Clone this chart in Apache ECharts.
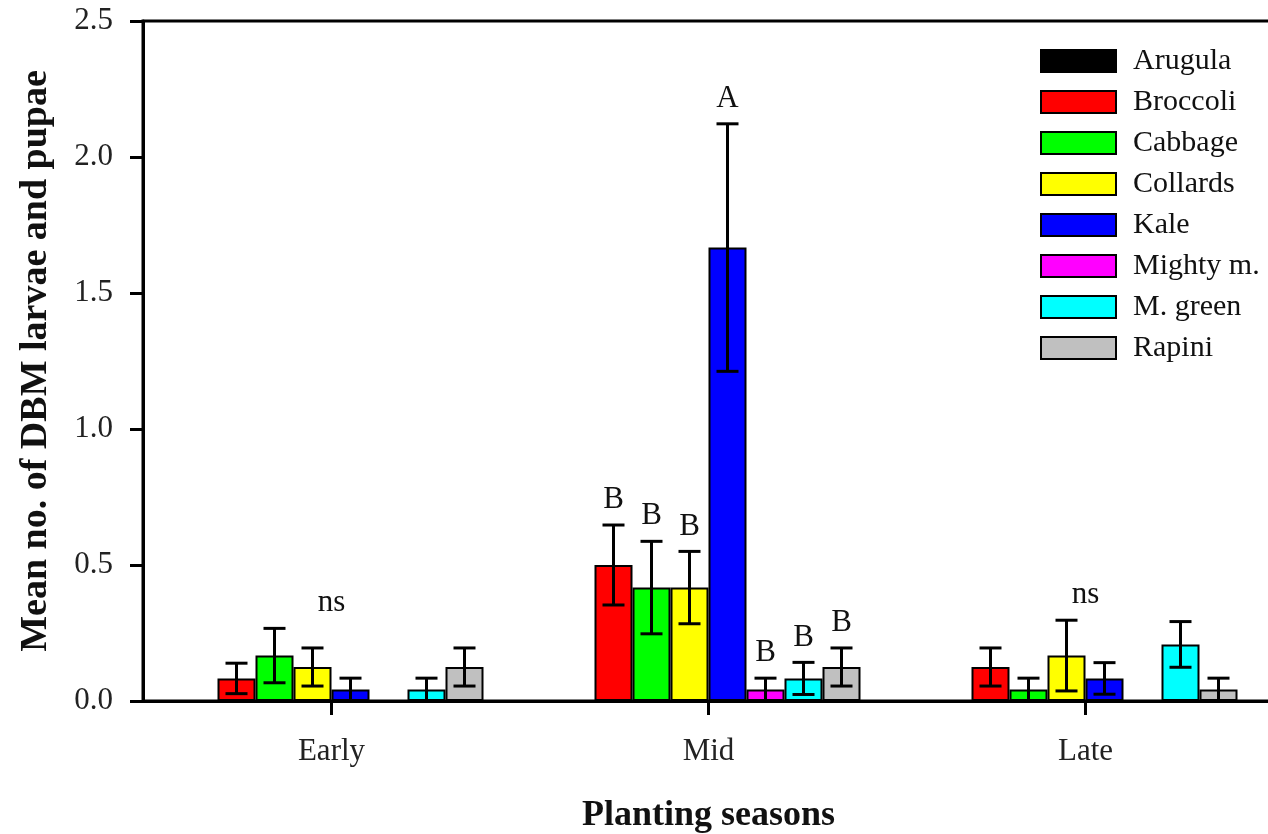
<!DOCTYPE html>
<html>
<head>
<meta charset="utf-8">
<script src="https://cdn.jsdelivr.net/npm/echarts@6/dist/echarts.min.js"></script>
<style>
html,body{margin:0;padding:0;background:#fff;}
#chart{width:1268px;height:834px;}
</style>
</head>
<body>
<div id="chart"></div>
<script>
// ---- data ----
const categories = ['Early', 'Mid', 'Late'];
const seriesNames = ['Arugula', 'Broccoli', 'Cabbage', 'Collards', 'Kale', 'Mighty m.', 'M. green', 'Rapini'];
const seriesColors = ['#000000', '#ff0000', '#00ff00', '#ffff00', '#0000ff', '#ff00ff', '#00ffff', '#c0c0c0'];

const arugula  = [0, 0, 0];
const broccoli = [0.083, 0.5, 0.125];
const cabbage  = [0.167, 0.417, 0.042];
const collards = [0.125, 0.417, 0.167];
const kale     = [0.042, 1.667, 0.083];
const mighty   = [0, 0.042, 0];
const mgreen   = [0.042, 0.083, 0.208];
const rapini   = [0.125, 0.125, 0.042];

const arugulaErr  = [0, 0, 0];
const broccoliErr = [0.056, 0.147, 0.07];
const cabbageErr  = [0.1, 0.17, 0.042];
const collardsErr = [0.07, 0.133, 0.13];
const kaleErr     = [0.042, 0.455, 0.058];
const mightyErr   = [0, 0.042, 0];
const mgreenErr   = [0.042, 0.059, 0.084];
const rapiniErr   = [0.07, 0.07, 0.042];

// significance letters (per category, per series)
const earlyLetters = ['', '', '', '', '', '', '', ''];
const midLetters   = ['', 'B', 'B', 'B', 'A', 'B', 'B', 'B'];
const lateLetters  = ['', '', '', '', '', '', '', ''];

// "ns" notes: category index, y value
const nsCategories = [0, 2];
const nsValues = [0.36, 0.39];

const yTicks = [0, 0.5, 1.0, 1.5, 2.0, 2.5];

// ---- build ----
const values = [arugula, broccoli, cabbage, collards, kale, mighty, mgreen, rapini];
const errors = [arugulaErr, broccoliErr, cabbageErr, collardsErr, kaleErr, mightyErr, mgreenErr, rapiniErr];
const letters = [earlyLetters, midLetters, lateLetters];

const BAR_W = 38;
const FONT = '"Liberation Serif", "Times New Roman", serif';

const barSeries = seriesNames.map((name, i) => ({
  name: name,
  type: 'bar',
  data: values[i],
  barWidth: BAR_W,
  barGap: '0%',
  itemStyle: { color: seriesColors[i], borderColor: '#000', borderWidth: 2 },
  z: 2
}));

const errData = [];
for (let s = 0; s < seriesNames.length; s++) {
  for (let c = 0; c < categories.length; c++) {
    errData.push([c, s, values[s][c], errors[s][c], letters[c][s]]);
  }
}

const errSeries = {
  type: 'custom',
  name: 'err',
  z: 5,
  encode: { x: 0, y: 2 },
  data: errData,
  renderItem: function (params, api) {
    const c = api.value(0), s = api.value(1), v = api.value(2), e = api.value(3);
    const letter = errData[params.dataIndex][4];
    const n = seriesNames.length;
    const off = (s - (n - 1) / 2) * BAR_W;
    const top = api.coord([c, v + e]);
    const bot = api.coord([c, v - e]);
    const x = top[0] + off;
    const children = [];
    const ls = { stroke: '#000', lineWidth: 3 };
    if (e > 0) {
      children.push({ type: 'line', shape: { x1: x, y1: top[1], x2: x, y2: bot[1] }, style: ls });
      children.push({ type: 'line', shape: { x1: x - 11, y1: top[1], x2: x + 11, y2: top[1] }, style: ls });
      children.push({ type: 'line', shape: { x1: x - 11, y1: bot[1], x2: x + 11, y2: bot[1] }, style: ls });
    }
    if (letter) {
      children.push({ type: 'text', style: { text: letter, x: x, y: top[1] - 25, align: 'center', verticalAlign: 'middle', font: '31px ' + FONT, fill: '#111' } });
    }
    return { type: 'group', children: children };
  }
};

const nsSeries = {
  type: 'custom',
  name: 'ns',
  z: 5,
  encode: { x: 0, y: 1 },
  data: nsCategories.map((c, i) => [c, nsValues[i]]),
  renderItem: function (params, api) {
    const p = api.coord([api.value(0), api.value(1)]);
    return { type: 'text', style: { text: 'ns', x: p[0], y: p[1], align: 'center', verticalAlign: 'middle', font: '31px ' + FONT, fill: '#111' } };
  }
};

const chart = echarts.init(document.getElementById('chart'), null, { renderer: 'canvas' });
chart.setOption({
  animation: false,
  backgroundColor: '#fff',
  grid: { left: 143, top: 21, width: 1131, height: 680, outerBoundsMode: 'none', containLabel: false, show: true, borderColor: '#000', borderWidth: 3, backgroundColor: 'transparent' },
  legend: {
    data: seriesNames,
    orient: 'vertical',
    left: 1035,
    top: 41,
    icon: 'rect',
    itemWidth: 75,
    itemHeight: 22,
    itemGap: 11,
    textStyle: { fontFamily: FONT, fontSize: 30, color: '#111', padding: [0, 0, 0, 12] }
  },
  xAxis: {
    type: 'category',
    data: categories,
    axisLine: { lineStyle: { color: '#000', width: 3 } },
    axisTick: { show: true, alignWithLabel: true, length: 14, lineStyle: { color: '#000', width: 3 } },
    axisLabel: { fontFamily: FONT, fontSize: 31, color: '#222', margin: 35 },
    splitLine: { show: false },
    name: 'Planting seasons',
    nameLocation: 'middle',
    nameGap: 97,
    nameTextStyle: { fontFamily: FONT, fontSize: 36, fontWeight: 'bold', color: '#111' }
  },
  yAxis: {
    type: 'value',
    min: yTicks[0],
    max: yTicks[yTicks.length - 1],
    interval: 0.5,
    axisLine: { show: true, lineStyle: { color: '#000', width: 3 } },
    axisTick: { show: true, length: 13, lineStyle: { color: '#000', width: 3 } },
    axisLabel: { fontFamily: FONT, fontSize: 31, color: '#222', margin: 30, formatter: v => v.toFixed(1) },
    splitLine: { show: false },
    name: 'Mean no. of DBM larvae and pupae',
    nameLocation: 'middle',
    nameGap: 88,
    nameTextStyle: { fontFamily: FONT, fontSize: 38, fontWeight: 'bold', color: '#111' }
  },
  series: barSeries.concat([errSeries, nsSeries])
});
</script>
</body>
</html>
